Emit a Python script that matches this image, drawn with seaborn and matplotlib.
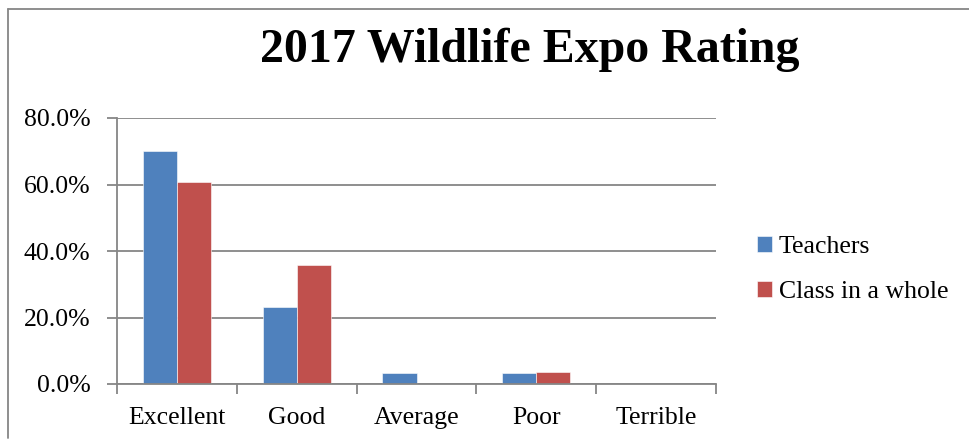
import matplotlib.pyplot as plt
import matplotlib as mpl
import pandas as pd
import seaborn as sns

ratings = ['Excellent', 'Good', 'Average', 'Poor', 'Terrible']
teachers = [70.0, 23.3, 3.3, 3.3, 0.0]
class_whole = [60.7, 35.7, 0.0, 3.6, 0.0]
series_names = ['Teachers', 'Class in a whole']
yticks = [0, 20, 40, 60, 80]

df = pd.concat([
    pd.DataFrame({'rating': ratings, 'pct': teachers, 'group': series_names[0]}),
    pd.DataFrame({'rating': ratings, 'pct': class_whole, 'group': series_names[1]}),
])

sns.set_style('white')
plt.rcParams['font.family'] = ['Liberation Serif', 'DejaVu Serif']
plt.rcParams['text.color'] = 'black'
plt.rcParams['xtick.color'] = 'black'
plt.rcParams['ytick.color'] = 'black'

W, H = 969, 443
fig = plt.figure(figsize=(W / 100, H / 100), dpi=100)
ax = fig.add_axes([117 / W, 1 - 384 / H, (716 - 117) / W, (384 - 118) / H])

sns.barplot(ax=ax, data=df, x='rating', y='pct', hue='group', order=ratings,
            hue_order=series_names, palette=['#4f81bd', '#c0504d'],
            width=0.57, saturation=1, legend=True)
for p in ax.patches:
    p.set_edgecolor('white')
    p.set_linewidth(0.4)

grey = '#868686'
ax.set_ylim(0, 80)
ax.set_xlim(-0.5, 4.5)
ax.set_yticks(yticks)
ax.yaxis.set_major_formatter(mpl.ticker.FuncFormatter(lambda v, p: f'{v:.1f}%'))
ax.yaxis.grid(True, color=grey, linewidth=1.3)
ax.set_axisbelow(True)
ax.set_xlabel('')
ax.set_ylabel('')
for s in ['top', 'right']:
    ax.spines[s].set_visible(False)
for s in ['left', 'bottom']:
    ax.spines[s].set_color(grey)
    ax.spines[s].set_linewidth(1.3)
ax.tick_params(axis='y', which='major', left=True, length=7, width=1.3, color=grey,
               labelsize=18.5, pad=12)
ax.tick_params(axis='x', which='major', bottom=False, labelsize=18.5, pad=13)
ax.set_xticks([i - 0.5 for i in range(6)], minor=True)
ax.tick_params(axis='x', which='minor', bottom=True, length=7, width=1.3, color=grey)

leg = ax.legend(loc='center left', bbox_to_anchor=(1.068, 0.43), frameon=False,
                fontsize=18.5, handlelength=0.6, handleheight=0.6, handletextpad=0.25,
                labelspacing=0.9, borderpad=0, borderaxespad=0)

fig.text(530 / W, 1 - 50 / H, '2017 Wildlife Expo Rating', ha='center', va='center',
         fontsize=34.5, fontweight='bold')

fig.add_artist(mpl.lines.Line2D([8 / W, 8 / W], [1 - 438 / H, 1 - 9 / H], color=grey, lw=1.3))
fig.add_artist(mpl.lines.Line2D([8 / W, 1], [1 - 9 / H, 1 - 9 / H], color=grey, lw=1.3))

plt.savefig('out.png', dpi=100)
